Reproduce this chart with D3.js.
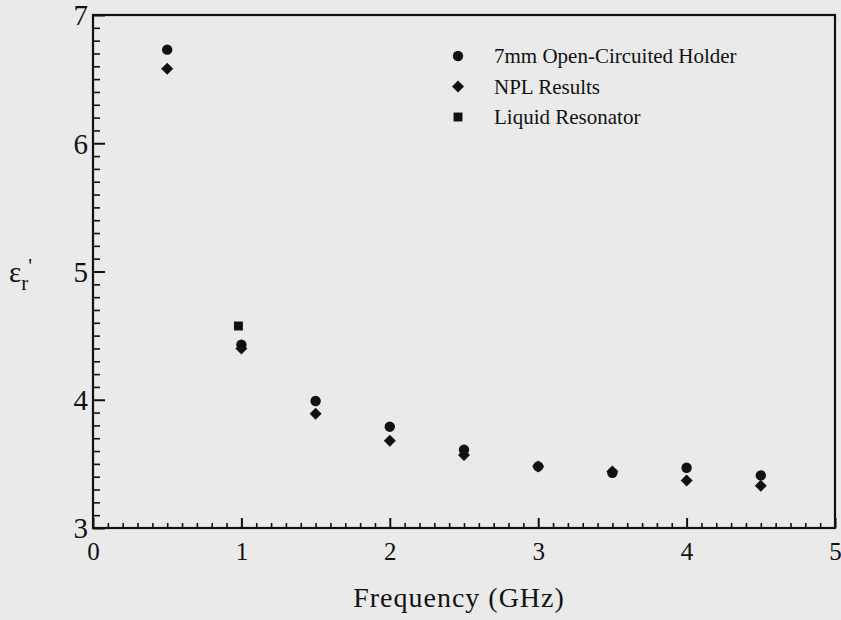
<!DOCTYPE html>
<html><head><meta charset="utf-8">
<script src="https://cdn.jsdelivr.net/npm/d3@7/dist/d3.min.js"></script>
</head>
<body style="margin:0;background:#eaeaea">
<svg id="chart" width="841" height="620"></svg>
<script>
const freqs = [0.5, 1.0, 1.5, 2.0, 2.5, 3.0, 3.5, 4.0, 4.5];
const holderValues = [6.73, 4.43, 3.99, 3.79, 3.61, 3.48, 3.43, 3.47, 3.41];
const nplValues = [6.58, 4.40, 3.89, 3.68, 3.57, 3.48, 3.44, 3.37, 3.33];
const resonatorFreqs = [0.98];
const resonatorValues = [4.575];
const xTicks = [0, 1, 2, 3, 4, 5];
const yTicks = [3, 4, 5, 6, 7];
const legendLabels = ["7mm Open-Circuited Holder", "NPL Results", "Liquid Resonator"];

const FONT = '"Liberation Serif"';
const svg = d3.select("#chart");
const x = d3.scaleLinear().domain([0, 5]).range([93, 835]);
const y = d3.scaleLinear().domain([3, 7]).range([528, 15]);
const ink = "#111";

const xMinor = d3.range(0, 5.001, 0.1).map(v => +v.toFixed(2)).filter(v => Math.abs(v - Math.round(v)) > 1e-6);
const yMinor = d3.range(3, 7.001, 0.1).map(v => +v.toFixed(2)).filter(v => Math.abs(v - Math.round(v)) > 1e-6);

const gx = svg.append("g").attr("transform", `translate(0,${y(3)})`)
  .call(d3.axisBottom(x).tickValues(xTicks).tickSize(-10).tickPadding(14).tickFormat(d3.format("d")));
gx.attr("font-family", null).attr("font-size", null);
gx.select(".domain").remove();
gx.selectAll("text").style("font-family", FONT).style("font-size", "25px").attr("fill", ink);
gx.selectAll("line").attr("stroke", ink).attr("stroke-width", 2);

const gxm = svg.append("g").attr("transform", `translate(0,${y(3)})`)
  .call(d3.axisBottom(x).tickValues(xMinor).tickSize(-5).tickFormat(""));
gxm.select(".domain").remove();
gxm.selectAll("line").attr("stroke", ink).attr("stroke-width", 1.6);

const gy = svg.append("g").attr("transform", `translate(${x(0)},0)`)
  .call(d3.axisLeft(y).tickValues(yTicks).tickSize(-12).tickPadding(5).tickFormat(d3.format("d")));
gy.attr("font-family", null).attr("font-size", null);
gy.select(".domain").remove();
gy.selectAll("text").style("font-family", FONT).style("font-size", "29px").attr("fill", ink).attr("dy", "0.34em");
gy.selectAll("line").attr("stroke", ink).attr("stroke-width", 2);

const gym = svg.append("g").attr("transform", `translate(${x(0)},0)`)
  .call(d3.axisLeft(y).tickValues(yMinor).tickSize(-7).tickFormat(""));
gym.select(".domain").remove();
gym.selectAll("line").attr("stroke", ink).attr("stroke-width", 1.6);

svg.append("rect").attr("x", x(0)).attr("y", y(7))
  .attr("width", x(5) - x(0)).attr("height", y(3) - y(7))
  .attr("fill", "none").attr("stroke", ink).attr("stroke-width", 2.2);

const sym = {
  circle: d3.symbol().type(d3.symbolCircle).size(85),
  diamond: d3.symbol().type(d3.symbolSquare).size(72),
  square: d3.symbol().type(d3.symbolSquare).size(80)
};
const rot = { circle: "", diamond: " rotate(45)", square: "" };
svg.append("g").selectAll("path").data(freqs.map((f, i) => [f, nplValues[i]])).join("path")
  .attr("d", sym.diamond).attr("fill", ink)
  .attr("transform", d => `translate(${x(d[0])},${y(d[1])})${rot.diamond}`);
svg.append("g").selectAll("path").data(freqs.map((f, i) => [f, holderValues[i]])).join("path")
  .attr("d", sym.circle).attr("fill", ink)
  .attr("transform", d => `translate(${x(d[0])},${y(d[1])})`);
svg.append("g").selectAll("path").data(resonatorFreqs.map((f, i) => [f, resonatorValues[i]])).join("path")
  .attr("d", sym.square).attr("fill", ink)
  .attr("transform", d => `translate(${x(d[0])},${y(d[1])})`);

const legTypes = ["circle", "diamond", "square"];
legendLabels.forEach((lab, i) => {
  const ly = 56 + i * 30.5;
  svg.append("path").attr("d", sym[legTypes[i]]).attr("fill", ink)
    .attr("transform", `translate(458,${ly})${rot[legTypes[i]]}`);
  svg.append("text").attr("x", 494).attr("y", ly).attr("dy", "0.35em")
    .style("font-family", FONT).style("font-size", "21px").attr("fill", ink).text(lab);
});

svg.append("text").attr("x", 459).attr("y", 607).attr("text-anchor", "middle")
  .style("font-family", FONT).style("font-size", "28px").style("letter-spacing", "1px")
  .attr("fill", ink).text("Frequency (GHz)");
const yl = svg.append("text").attr("x", 9).attr("y", 282)
  .style("font-family", FONT).style("font-size", "29px").attr("fill", ink);
yl.append("tspan").text("ε");
yl.append("tspan").attr("dy", 8).style("font-size", "21px").text("r");
yl.append("tspan").attr("dy", -17).style("font-size", "21px").text("'");
</script>
</body></html>
